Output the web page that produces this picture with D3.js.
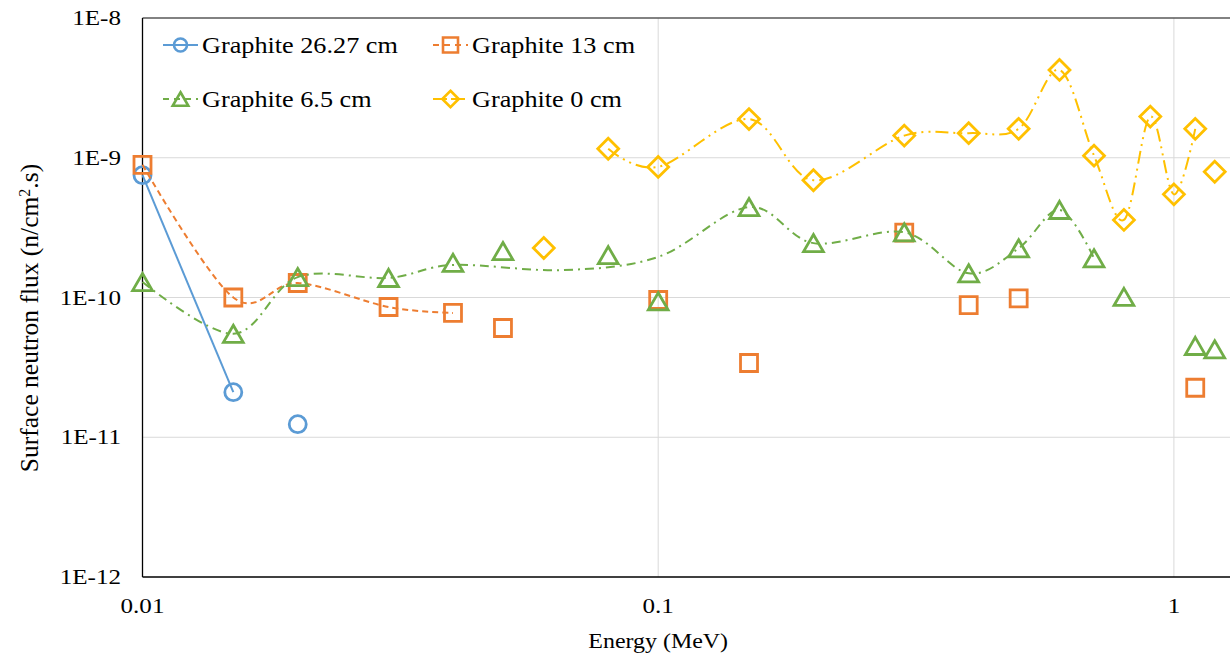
<!DOCTYPE html>
<html>
<head>
<meta charset="utf-8">
<script src="https://cdn.jsdelivr.net/npm/d3@7"></script>
<style>
  body { margin: 0; background: #fff; }
</style>
</head>
<body>
<div id="chart"></div>
<script>
// Energy grid (MeV) used by all series
const energy = [0.01, 0.015, 0.02, 0.03, 0.04, 0.05, 0.06, 0.08, 0.1, 0.15, 0.2,
                0.3, 0.4, 0.5, 0.6, 0.7, 0.8, 0.9, 1.0, 1.1, 1.2];

// Marker values (null = no point)
const flux2627 = [7.5e-10, 2.1e-11, 1.24e-11, null, null, null, null, null, null, null, null,
                  null, null, null, null, null, null, null, null, null, null];
const flux13 = [8.9e-10, 1.0e-10, 1.27e-10, 8.55e-11, 7.75e-11, 6.05e-11, null, null, 9.6e-11, 3.4e-11, null,
                2.91e-10, 8.83e-11, 9.86e-11, null, null, null, null, null, 2.26e-11, null];
const flux65 = [1.29e-10, 5.5e-11, 1.4e-10, 1.38e-10, 1.77e-10, 2.15e-10, null, 2.01e-10, 9.4e-11, 4.44e-10, 2.45e-10,
                2.93e-10, 1.49e-10, 2.25e-10, 4.23e-10, 1.91e-10, 1.01e-10, null, null, 4.5e-11, 4.26e-11];
const flux0 = [null, null, null, null, null, null, 2.26e-10, 1.16e-9, 8.6e-10, 1.89e-9, 6.9e-10,
               1.44e-9, 1.5e-9, 1.61e-9, 4.25e-9, 1.035e-9, 3.59e-10, 1.97e-9, 5.47e-10, 1.61e-9, 7.94e-10];

// Smoothed line vertices for each series
const line2627E = [0.01, 0.015];
const line2627F = [7.5e-10, 2.1e-11];
const line13E = [0.01, 0.015, 0.02, 0.03, 0.04];
const line13F = [8.9e-10, 1.0e-10, 1.27e-10, 8.55e-11, 7.75e-11];
const line65E = [0.01, 0.015, 0.02, 0.03, 0.04, 0.065, 0.1, 0.15, 0.2, 0.3, 0.4, 0.5, 0.6, 0.7];
const line65F = [1.29e-10, 5.5e-11, 1.4e-10, 1.38e-10, 1.71e-10, 1.57e-10, 1.95e-10, 4.44e-10, 2.45e-10,
                 2.93e-10, 1.49e-10, 2.25e-10, 4.23e-10, 1.91e-10];
const line0E = [0.08, 0.1, 0.15, 0.2, 0.3, 0.4, 0.5, 0.6, 0.7, 0.8, 0.9, 1.0, 1.1];
const line0F = [1.16e-9, 8.6e-10, 1.89e-9, 6.9e-10, 1.44e-9, 1.5e-9, 1.61e-9, 4.25e-9, 1.035e-9, 3.59e-10,
                1.97e-9, 5.47e-10, 1.61e-9];

// Axis ticks
const xTicks = [0.01, 0.1, 1];
const xTickLabels = ["0.01", "0.1", "1"];
const yTicks = [1e-12, 1e-11, 1e-10, 1e-9, 1e-8];
const yTickLabels = ["1E-12", "1E-11", "1E-10", "1E-9", "1E-8"];

const seriesNames = ["Graphite 26.27 cm", "Graphite 13 cm", "Graphite 6.5 cm", "Graphite 0 cm"];

const W = 1230, H = 659;
const plotLeft = 142.5, plotTop = 18, plotBottom = 577;
const decade = 515.7;

const x = d3.scaleLog().domain([0.01, 10]).range([plotLeft, plotLeft + 3 * decade]);
const y = d3.scaleLog().domain([1e-12, 1e-8]).range([plotBottom, plotTop]);

const svg = d3.select("#chart").append("svg")
    .attr("width", W)
    .attr("height", H)
    .attr("font-family", "'Liberation Serif', 'Times New Roman', serif");

const sx = 1.14; // horizontal stretch of text in the original

// Gridlines
svg.append("g").selectAll("line")
    .data(yTicks.slice(1, -1))
    .enter().append("line")
    .attr("x1", plotLeft).attr("x2", W)
    .attr("y1", d => y(d)).attr("y2", d => y(d))
    .style("stroke", "#d9d9d9").style("stroke-width", 1);

svg.append("g").selectAll("line")
    .data(xTicks.slice(1))
    .enter().append("line")
    .attr("x1", d => x(d)).attr("x2", d => x(d))
    .attr("y1", plotTop).attr("y2", plotBottom)
    .style("stroke", "#d9d9d9").style("stroke-width", 1);

// Frame
svg.append("line").attr("x1", plotLeft).attr("x2", W).attr("y1", plotTop).attr("y2", plotTop)
    .style("stroke", "#595959").style("stroke-width", 1.3);
svg.append("line").attr("x1", plotLeft).attr("x2", plotLeft).attr("y1", plotTop).attr("y2", plotBottom)
    .style("stroke", "#000").style("stroke-width", 1.3);
svg.append("line").attr("x1", plotLeft).attr("x2", W).attr("y1", plotBottom).attr("y2", plotBottom)
    .style("stroke", "#000").style("stroke-width", 1.3);

// Tick labels
svg.append("g").selectAll("text")
    .data(yTicks)
    .enter().append("text")
    .attr("transform", d => "translate(121," + (y(d) + 7) + ") scale(" + sx + ",1)")
    .style("text-anchor", "end")
    .style("font-size", "22px")
    .text((d, i) => yTickLabels[i]);

svg.append("g").selectAll("text")
    .data(xTicks)
    .enter().append("text")
    .attr("transform", d => "translate(" + x(d) + ",613) scale(" + sx + ",1)")
    .style("text-anchor", "middle")
    .style("font-size", "22px")
    .text((d, i) => xTickLabels[i]);

// Axis titles
svg.append("text")
    .attr("transform", "translate(" + x(0.1) + ",648) scale(" + sx + ",1)")
    .style("text-anchor", "middle")
    .style("font-size", "21px")
    .text("Energy (MeV)");

const yt = svg.append("text")
    .attr("transform", "translate(38,318) rotate(-90)")
    .style("text-anchor", "middle")
    .style("font-size", "25.5px");
yt.append("tspan").text("Surface neutron flux (n/cm");
yt.append("tspan").attr("baseline-shift", "super").style("font-size", "16px").text("2");
yt.append("tspan").text(".s)");

// Series styling
const colors = ["#5B9BD5", "#ED7D31", "#70AD47", "#FFC000"];
const dashes = [null, "6,4", "9,5,2,5", "13,5,2,5,2,5"];
const legendDashes = [null, "6,5", "6,5", "14,4"];
const markerTypes = ["circle", "square", "triangle", "diamond"];

const markerPath = (type, s) => {
    if (type === "circle") return d3.symbol(d3.symbolCircle, Math.PI * s * s / 4)();
    if (type === "square") return "M" + (-s / 2) + "," + (-s / 2) + "h" + s + "v" + s + "h" + (-s) + "Z";
    if (type === "triangle") return "M0," + (-s * 0.45) + "L" + (s * 0.52) + "," + (s * 0.45) + "L" + (-s * 0.52) + "," + (s * 0.45) + "Z";
    return "M0," + (-s * 0.55) + "L" + (s * 0.55) + ",0L0," + (s * 0.55) + "L" + (-s * 0.55) + ",0Z";
};
const markerSize = [17, 17, 19, 19];

const allFlux = [flux2627, flux13, flux65, flux0];
const lines = [[line2627E, line2627F], [line13E, line13F], [line65E, line65F], [line0E, line0F]];

const lineGen = d3.line()
    .x(d => x(d[0]))
    .y(d => y(d[1]))
    .curve(d3.curveCardinal.tension(0));

allFlux.forEach((flux, si) => {
    const g = svg.append("g");
    const pts = lines[si][0].map((e, i) => [e, lines[si][1][i]]);
    g.append("path")
        .datum(pts)
        .attr("d", lineGen)
        .style("fill", "none")
        .style("stroke", colors[si])
        .style("stroke-width", 2)
        .style("stroke-dasharray", dashes[si]);

    const marks = energy.map((e, i) => [e, flux[i]]).filter(d => d[1] !== null);
    g.selectAll("path.mk")
        .data(marks)
        .enter().append("path")
        .attr("class", "mk")
        .attr("transform", d => "translate(" + x(d[0]) + "," + y(d[1]) + ")")
        .attr("d", markerPath(markerTypes[si], markerSize[si]))
        .style("fill", "none")
        .style("stroke", colors[si])
        .style("stroke-width", 2.8);
});

// Legend
const legendPos = [[163, 45], [433, 45], [163, 99], [433, 99]];
seriesNames.forEach((name, si) => {
    const [lx, ly] = legendPos[si];
    const g = svg.append("g").attr("transform", "translate(" + lx + "," + ly + ")");
    g.append("line")
        .attr("x1", 0).attr("x2", 35).attr("y1", 0).attr("y2", 0)
        .style("stroke", colors[si])
        .style("stroke-width", 2)
        .style("stroke-dasharray", legendDashes[si]);
    g.append("path")
        .attr("transform", "translate(17.5,0)")
        .attr("d", markerPath(markerTypes[si], si === 0 ? 13 : 15))
        .style("fill", "none")
        .style("stroke", colors[si])
        .style("stroke-width", 2.6);
    g.append("text")
        .attr("transform", "translate(39,8) scale(" + sx + ",1)")
        .style("font-size", "23px")
        .text(name);
});
</script>
</body>
</html>
